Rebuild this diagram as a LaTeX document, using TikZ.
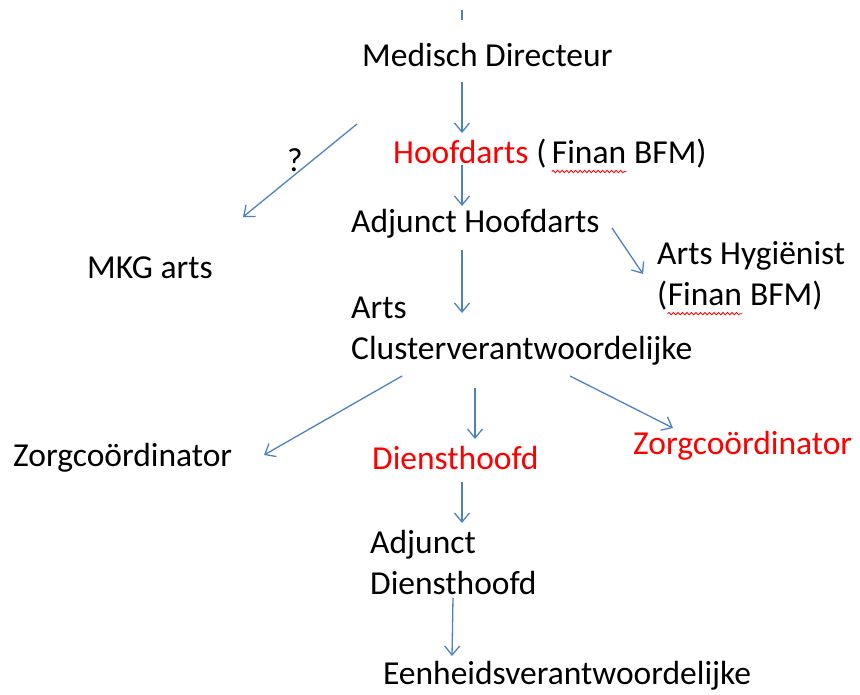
\documentclass[tikz,border=0pt]{standalone}
\usepackage{fontspec}
\setmainfont{Carlito}
\usetikzlibrary{arrows.meta,decorations.pathmorphing}
\definecolor{arrblue}{RGB}{79,129,189}
\begin{document}
\begin{tikzpicture}[x=1pt,y=-1pt,
  lbl/.style={anchor=west,inner sep=0pt,font=\fontsize{33.5}{41}\selectfont,align=left},
  cont/.style={anchor=base west,inner sep=0pt,font=\fontsize{33.5}{41}\selectfont},
  arr/.style={draw=arrblue,line width=1.3pt,-{Straight Barb[length=9pt,width=15pt,line width=1.3pt]}},
  wavy/.style={draw=red,line width=0.8pt,decorate,decoration={snake,amplitude=1.2pt,segment length=4.5pt}}]
\useasboundingbox (0,0) rectangle (860,694);
% tick at top
\coordinate (t1) at (462,10);
\coordinate (t2) at (462,20);
\draw[arrblue,line width=1.3pt] (t1) -- (t2);
% nodes
\node[lbl] (md) at (362,55) {Medisch Directeur};
\node[lbl,text=red] (hd) at (393,152) {Hoofdarts};
\node[cont] (hdp) at (hd.base east) {\ (};
\node[cont] (hdf) at ([xshift=5pt]hdp.base east) {Finan};
\node[cont] (hdb) at (hdf.base east) {\ BFM)};
\node[lbl] (ah) at (351,224) {Adjunct Hoofdarts};
\node[lbl] (mkg) at (87,268) {MKG arts};
\node[lbl] (hyg) at (657,256) {Arts Hygiënist};
\node[cont] (hygp) at ([yshift=-41pt]hyg.base west) {(};
\node[cont] (hygf) at (hygp.base east) {Finan};
\node[cont] (hygb) at (hygf.base east) {\ BFM)};
\node[lbl] (acv) at (351,331) {Arts\\Clusterverantwoordelijke};
\node[lbl] (zc1) at (13,458) {Zorgcoördinator};
\node[lbl,text=red] (dh) at (372,458) {Diensthoofd};
\node[lbl,text=red] (zc2) at (633,446) {Zorgcoördinator};
\node[lbl] (adh) at (370,562) {Adjunct\\Diensthoofd};
\node[lbl] (ev) at (383,676) {Eenheidsverantwoordelijke};
\node[inner sep=0pt,font=\fontsize{33.5}{40}\selectfont] (q) at (295,160) {?};
% wavy underlines
\draw[wavy] ([yshift=-8pt]hdf.base west) -- ([yshift=-8pt]hdf.base east);
\draw[wavy] ([yshift=-8pt]hygf.base west) -- ([yshift=-8pt]hygf.base east);
% arrow end points
\coordinate (a1s) at (462,82);  \coordinate (a1e) at (462,133);
\coordinate (a2s) at (462,165); \coordinate (a2e) at (462,206);
\coordinate (a3s) at (357,124); \coordinate (a3e) at (243,217);
\coordinate (a4s) at (612,228); \coordinate (a4e) at (643,274);
\coordinate (a5s) at (462,250); \coordinate (a5e) at (462,313);
\coordinate (a6s) at (402,376); \coordinate (a6e) at (264,455);
\coordinate (a7s) at (475,388); \coordinate (a7e) at (475,439);
\coordinate (a8s) at (570,376); \coordinate (a8e) at (673,428);
\coordinate (a9s) at (462,482); \coordinate (a9e) at (462,523);
\coordinate (a10s) at (453,598); \coordinate (a10e) at (452,656);
\draw[arr] (a1s) -- (a1e);
\draw[arr] (a2s) -- (a2e);
\draw[arr] (a3s) -- (a3e);
\draw[arr] (a4s) -- (a4e);
\draw[arr] (a5s) -- (a5e);
\draw[arr] (a6s) -- (a6e);
\draw[arr] (a7s) -- (a7e);
\draw[arr] (a8s) -- (a8e);
\draw[arr] (a9s) -- (a9e);
\draw[arr] (a10s) -- (a10e);
\end{tikzpicture}
\end{document}
